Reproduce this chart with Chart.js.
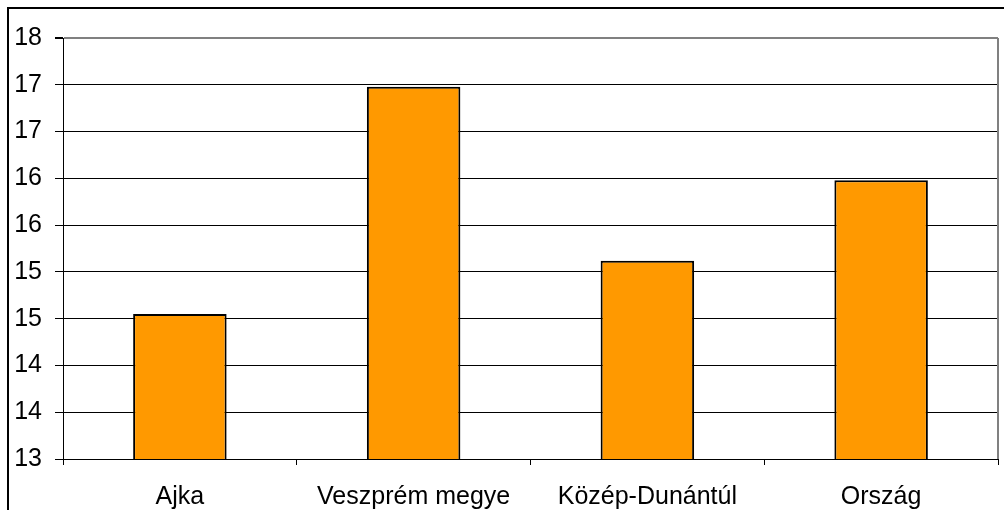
<!DOCTYPE html>
<html>
<head>
<meta charset="utf-8">
<script src="https://cdn.jsdelivr.net/npm/chart.js@4/dist/chart.umd.min.js"></script>
<style>
  html, body { margin: 0; padding: 0; background: #fff; }
  #wrap { width: 1004px; height: 510px; position: relative; }
</style>
</head>
<body>
<div id="wrap"><canvas id="barChart"></canvas></div>
<script>
const categories = ['Ajka', 'Veszprém megye', 'Közép-Dunántúl', 'Ország'];
const values = [14.55, 16.98, 15.12, 15.98];
const yMin = 13;
const yMax = 17.5;
const yStep = 0.5;

// outer frame (only left + top edges are visible) and the grey plot border on the right
const framePlugin = {
  id: 'frame',
  beforeDraw(chart) {
    const c = chart.ctx;
    c.save();
    c.strokeStyle = '#000';
    c.lineWidth = 2;
    c.beginPath();
    c.moveTo(8, 510);
    c.lineTo(8, 8);
    c.lineTo(1004, 8);
    c.stroke();
    c.restore();
  },
  afterDatasetsDraw(chart) {
    const c = chart.ctx;
    const a = chart.chartArea;
    c.save();
    c.strokeStyle = '#808080';
    c.lineWidth = 2;
    c.beginPath();
    c.moveTo(a.right, a.top);
    c.lineTo(a.right, a.bottom);
    c.stroke();
    c.restore();
  }
};

const font = { family: '"Liberation Sans", Arial, sans-serif', size: 25 };

new Chart(document.getElementById('barChart').getContext('2d'), {
  type: 'bar',
  data: {
    labels: categories,
    datasets: [{
      data: values,
      backgroundColor: '#ff9900',
      borderColor: '#000',
      borderWidth: 2,
      barPercentage: 0.4,
      categoryPercentage: 1
    }]
  },
  options: {
    responsive: true,
    maintainAspectRatio: false,
    animation: false,
    layout: { padding: { left: 0, top: 38, right: 6, bottom: 0 } },
    scales: {
      y: {
        min: yMin,
        max: yMax,
        afterFit: s => { s.width = 63; },
        ticks: {
          stepSize: yStep,
          padding: 13,
          color: '#000',
          font: font,
          callback: v => Math.round(v)
        },
        grid: {
          color: ctx => ctx.tick && ctx.tick.value === yMax ? '#808080' : '#000',
          lineWidth: ctx => ctx.tick && ctx.tick.value === yMax ? 2 : 1,
          tickColor: '#000',
          tickLength: 8
        },
        border: { color: '#000', width: 1 }
      },
      x: {
        afterFit: s => { s.height = 51; },
        ticks: {
          padding: 17,
          color: '#000',
          font: font
        },
        grid: {
          offset: true,
          drawOnChartArea: false,
          tickColor: '#000',
          tickLength: 6
        },
        border: { color: '#000', width: 1 }
      }
    },
    plugins: {
      legend: { display: false },
      tooltip: { enabled: false }
    }
  },
  plugins: [framePlugin]
});
</script>
</body>
</html>
